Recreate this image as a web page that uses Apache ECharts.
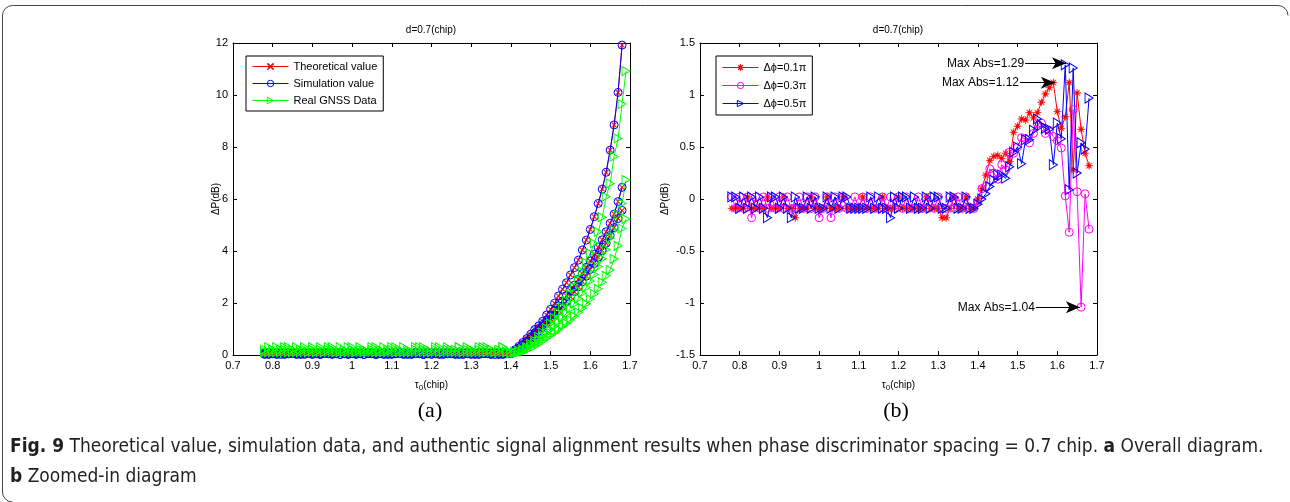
<!DOCTYPE html>
<html>
<head>
<meta charset="utf-8">
<script src="https://cdn.jsdelivr.net/npm/echarts@6/dist/echarts.min.js"></script>
<style>
html,body{margin:0;padding:0;background:#fff;}
#c{width:1290px;height:502px;}
</style>
</head>
<body>
<div id="c"></div>
<script>
// ---------------- DATA ----------------
const tau = [0.78,0.79,0.80,0.81,0.82,0.83,0.84,0.85,0.86,0.87,0.88,0.89,0.90,0.91,0.92,0.93,0.94,0.95,0.96,0.97,
0.98,0.99,1.00,1.01,1.02,1.03,1.04,1.05,1.06,1.07,1.08,1.09,1.10,1.11,1.12,1.13,1.14,1.15,1.16,1.17,
1.18,1.19,1.20,1.21,1.22,1.23,1.24,1.25,1.26,1.27,1.28,1.29,1.30,1.31,1.32,1.33,1.34,1.35,1.36,1.37,
1.38,1.39,1.40,1.41,1.42,1.43,1.44,1.45,1.46,1.47,1.48,1.49,1.50,1.51,1.52,1.53,1.54,1.55,1.56,1.57,
1.58,1.59,1.60,1.61,1.62,1.63,1.64,1.65,1.66,1.67,1.68];
const tauGnss = [0.78,0.79,0.80,0.81,0.82,0.83,0.84,0.85,0.86,0.87,0.88,0.89,0.90,0.91,0.92,0.93,0.94,0.95,0.96,0.97,
0.98,0.99,1.00,1.01,1.02,1.03,1.04,1.05,1.06,1.07,1.08,1.09,1.10,1.11,1.12,1.13,1.14,1.15,1.16,1.17,
1.18,1.19,1.20,1.21,1.22,1.23,1.24,1.25,1.26,1.27,1.28,1.29,1.30,1.31,1.32,1.33,1.34,1.35,1.36,1.37,
1.38,1.39,1.40,1.41,1.42,1.43,1.44,1.45,1.46,1.47,1.48,1.49,1.50,1.51,1.52,1.53,1.54,1.55,1.56,1.57,
1.58,1.59,1.60,1.61,1.62,1.63,1.64,1.65,1.66,1.67,1.68,1.69];

// (a) Theoretical value, three branches
const theoUpper = [0.05,0.09,0.05,0.02,0.09,0.05,0.05,0.09,0.02,0.05, 0.09,0.05,0.05,0.09,0.02,0.05,0.09,0.05,0.05,0.02,
0.09,0.05,0.05,0.09,0.05,0.02,0.05,0.09,0.05,0.05, 0.02,0.09,0.05,0.05,0.09,0.05,0.02,0.05,0.09,0.05,
0.05,0.09,0.02,0.05,0.05,0.09,0.05,0.05,0.02,0.09, 0.05,0.05,0.09,0.02,0.05,0.05,0.09,0.05,0.02,0.05, 0.09,0.05,
0.08,0.20,0.33,0.48,0.63,0.80,0.98,1.12,1.30, 1.54,1.76,1.99,2.27,2.53,2.78,3.08,3.36,3.65,4.04,
4.42,4.83,5.32,5.83,6.38,7.03,7.88,8.85,10.10,11.92];
const theoMiddle = [0.02,0.05,0.09,0.05,0.02,0.05,0.09,0.05,0.05,0.02, 0.05,0.09,0.02,0.05,0.05,0.09,0.05,0.02,0.05,0.09,
0.05,0.02,0.09,0.05,0.05,0.02,0.09,0.05,0.02,0.05, 0.09,0.05,0.02,0.05,0.09,0.05,0.05,0.02,0.09,0.05,
0.02,0.05,0.09,0.05,0.02,0.05,0.09,0.05,0.05,0.02, 0.09,0.05,0.02,0.05,0.09,0.05,0.05,0.02,0.09,0.05, 0.02,0.05,
0.06,0.16,0.27,0.40,0.54,0.69,0.85,1.01,1.17, 1.34,1.52,1.70,1.89,2.08,2.28,2.48,2.69,2.91,3.13,
3.37,3.61,3.87,4.14,4.43,4.74,5.07,5.42,5.90,6.45];
const theoLower = [0.09,0.02,0.05,0.05,0.09,0.02,0.05,0.09,0.05,0.05, 0.02,0.09,0.05,0.05,0.02,0.09,0.05,0.05,0.09,0.02,
0.05,0.05,0.09,0.02,0.05,0.09,0.05,0.05,0.02,0.09, 0.05,0.02,0.05,0.09,0.05,0.02,0.09,0.05,0.05,0.09,
0.02,0.05,0.05,0.09,0.05,0.02,0.05,0.09,0.05,0.05, 0.02,0.09,0.05,0.05,0.02,0.09,0.05,0.05,0.09,0.02, 0.05,0.05,
0.05,0.14,0.25,0.37,0.50,0.63,0.77,0.92,1.07, 1.22,1.38,1.54,1.71,1.88,2.06,2.24,2.43,2.62,2.82,
3.03,3.29,3.52,3.76,4.02,4.30,4.60,4.90,5.25,5.56];
// (a) Simulation value coincides with theory
const simUpper = theoUpper, simMiddle = theoMiddle, simLower = theoLower;
// (a) Real GNSS Data, three branches
const gnssUpper = [0.12,0.30,0.12,0.12,0.20,0.12,0.30,0.12,0.12,0.20, 0.12,0.12,0.30,0.12,0.20,0.12,0.12,0.30,0.12,0.12,
0.20,0.12,0.30,0.12,0.12,0.20,0.12,0.12,0.30,0.12, 0.12,0.20,0.12,0.30,0.12,0.12,0.20,0.12,0.12,0.30,
0.12,0.20,0.12,0.12,0.30,0.12,0.12,0.20,0.12,0.30, 0.12,0.12,0.20,0.12,0.12,0.30,0.12,0.20,0.12,0.12, 0.30,0.12,
0.10,0.12,0.16,0.22,0.30,0.42,0.55,0.70,0.86,1.03, 1.21,1.41,1.62,1.84,2.08,2.33,2.60,2.90,3.20,3.55,
3.91,4.30,4.74,5.30,6.09,6.60,7.63,8.33,9.65,10.92];
const gnssMiddle = [0.20,0.12,0.12,0.30,0.12,0.20,0.12,0.12,0.30,0.12, 0.20,0.12,0.12,0.12,0.30,0.12,0.20,0.12,0.12,0.30,
0.12,0.12,0.20,0.12,0.30,0.12,0.12,0.20,0.12,0.12, 0.30,0.12,0.20,0.12,0.12,0.30,0.12,0.12,0.20,0.12,
0.30,0.12,0.12,0.20,0.12,0.12,0.30,0.12,0.20,0.12, 0.12,0.30,0.12,0.12,0.20,0.12,0.30,0.12,0.12,0.20, 0.12,0.12,
0.08,0.09,0.12,0.17,0.25,0.35,0.46,0.58,0.71,0.84, 0.98,1.12,1.27,1.43,1.60,1.78,1.97,2.17,2.38,2.60,
2.85,3.10,3.40,3.70,4.05,4.50,4.80,5.40,5.83,6.73];
const gnssLower = [0.12,0.12,0.20,0.12,0.12,0.30,0.12,0.20,0.12,0.12, 0.30,0.12,0.20,0.12,0.12,0.12,0.30,0.20,0.12,0.12,
0.12,0.30,0.12,0.12,0.20,0.12,0.12,0.30,0.12,0.20, 0.12,0.12,0.30,0.12,0.20,0.12,0.12,0.12,0.30,0.12,
0.20,0.12,0.12,0.30,0.12,0.12,0.20,0.12,0.12,0.30, 0.12,0.20,0.12,0.12,0.30,0.12,0.12,0.20,0.12,0.12, 0.30,0.12,
0.07,0.08,0.10,0.13,0.19,0.26,0.34,0.43,0.53,0.64, 0.75,0.86,0.98,1.10,1.22,1.35,1.49,1.64,1.80,1.97,
2.15,2.35,2.55,2.80,3.05,3.27,3.70,4.20,4.87,5.23];

// (b) zoomed-in, three phase offsets
const dphi01 = [-0.09,-0.09,-0.09,-0.09,0.02,-0.09,-0.09,-0.09,-0.09,0.02, -0.09,-0.09,-0.09,0.02,-0.09,-0.09,-0.18,-0.09,-0.09,-0.09,
0.02,-0.09,-0.09,-0.09,0.02,-0.09,-0.09,-0.09,0.02,-0.09, -0.09,-0.09,-0.09,0.02,-0.09,-0.09,-0.09,-0.09,0.02,-0.09,
-0.09,-0.09,0.02,-0.09,-0.09,-0.09,-0.09,-0.09,-0.09,0.02, -0.09,-0.09,-0.09,-0.18,-0.18,-0.09,0.02,-0.09,-0.09,0.02, -0.09,-0.09,
0.00,0.10,0.23,0.37,0.41,0.42,0.39,0.44,0.36, 0.64,0.70,0.77,0.76,0.83,0.78,0.83,0.93,1.01,1.07,
1.12,0.84,0.68,0.79,1.12,0.28,1.02,0.67,0.44,0.32];
const dphi03 = [0.02,-0.09,0.02,-0.09,0.02,-0.18,0.02,-0.09,0.02,-0.09, 0.02,-0.09,0.02,-0.09,0.02,-0.09,-0.09,0.02,-0.09,0.02,
-0.09,0.02,-0.18,-0.09,0.02,-0.18,0.02,-0.09,0.02,-0.09, -0.09,0.02,-0.09,0.02,-0.09,0.02,-0.09,-0.09,0.02,-0.09,
0.02,-0.09,0.02,-0.09,0.02,-0.09,-0.09,0.02,-0.09,-0.09, 0.02,-0.09,0.02,-0.09,-0.09,0.02,-0.09,0.02,-0.09,0.02, -0.09,-0.09,
-0.02,0.10,0.12,0.29,0.25,0.19,0.33,0.28,0.45, 0.44,0.50,0.59,0.58,0.54,0.63,0.72,0.73,0.63,0.66,
0.60,0.56,0.49,0.03,-0.32,0.86,0.07,-1.04,0.05,-0.29];
const dphi05 = [0.02,0.02,-0.09,0.02,-0.09,0.02,-0.09,0.02,-0.09,-0.18, 0.02,0.02,-0.09,0.02,-0.09,-0.18,0.02,-0.09,-0.09,0.02,
-0.09,0.02,-0.09,-0.09,0.02,-0.09,0.02,-0.09,0.02,0.02, -0.09,-0.09,-0.09,-0.09,-0.09,0.02,-0.09,0.02,-0.09,-0.09,
-0.18,0.02,-0.09,0.02,0.02,-0.09,0.02,-0.09,-0.09,0.02, -0.09,0.02,0.02,-0.09,-0.09,0.02,0.02,-0.09,-0.09,0.02, -0.09,-0.09,
-0.05,0.00,0.05,0.12,0.18,0.23,0.23,0.20,0.31, 0.45,0.50,0.34,0.57,0.57,0.66,0.77,0.71,0.68,0.67,
0.33,0.73,0.58,1.29,0.09,1.26,0.25,0.54,0.48,0.97];

// tick labels
const xTickLabels = ['0.7','0.8','0.9','1','1.1','1.2','1.3','1.4','1.5','1.6','1.7'];
const yTickLabelsA = ['0','2','4','6','8','10','12'];
const yTickLabelsB = ['-1.5','-1','-0.5','0','0.5','1','1.5'];

// annotations (b): [text, x start, x end (arrow tip), y]
const annotations = [
  ['Max Abs=1.29', 1.519, 1.622, 1.305],
  ['Max Abs=1.12', 1.506, 1.594, 1.118],
  ['Max Abs=1.04', 1.546, 1.657, -1.041]
];

// ---------------- CHART ----------------
const FONT = 'Liberation Sans, Arial, sans-serif';
const CAPFONT = 'DejaVu Sans Condensed, Liberation Sans Narrow, sans-serif';
const chart = echarts.init(document.getElementById('c'), null, {renderer:'canvas'});

const crossSym = 'path://M0,1 L1,0 L5,4 L9,0 L10,1 L6,5 L10,9 L9,10 L5,6 L1,10 L0,9 L4,5 Z';
const triSym = 'path://M0,0 L10,5 L0,10 Z';
const starSym = 'path://M10,5 L6.48,5.61 L8.54,8.54 L5.61,6.48 L5,10 L4.39,6.48 L1.46,8.54 L3.52,5.61 L0,5 L3.52,4.39 L1.46,1.46 L4.39,3.52 L5,0 L5.61,3.52 L8.54,1.46 L6.48,4.39 Z';

function pts(xs, ys){ return ys.map((y,i)=>[xs[i], y]); }

function lineSeries(name, xs, ys, axisIdx, sym, size, color, hollow, extra){
  return Object.assign({
    name, type:'line', xAxisIndex:axisIdx, yAxisIndex:axisIdx,
    data: pts(xs, ys), symbol: sym, symbolSize: size, showSymbol:true, showAllSymbol:true,
    lineStyle:{color, width:1},
    itemStyle: hollow ? {color:'rgba(0,0,0,0)', borderColor:color, borderWidth:1}
                      : {color, borderColor:color, borderWidth:0.4},
    emphasis:{disabled:true}, silent:true, animation:false, z:2
  }, extra||{});
}

const series = [];
// left
[theoUpper, theoMiddle, theoLower].forEach(d=>series.push(lineSeries('Theoretical value', tau, d, 0, crossSym, 5, '#ff0000', false)));
[simUpper, simMiddle, simLower].forEach(d=>series.push(lineSeries('Simulation value', tau, d, 0, 'circle', 8, '#0000ff', true)));
[gnssUpper, gnssMiddle, gnssLower].forEach(d=>series.push(lineSeries('Real GNSS Data', tauGnss, d, 0, triSym, [8,9], '#00ff00', true)));
// right
series.push(lineSeries('Δϕ=0.1π', tau, dphi01, 2, starSym, 8, '#ff0000', false));
series.push(lineSeries('Δϕ=0.3π', tau, dphi03, 2, 'circle', 8, '#ff00ff', true));
series.push(lineSeries('Δϕ=0.5π', tau, dphi05, 2, triSym, [8,10], '#0000ff', true, {
  markLine:{
    silent:true, animation:false,
    symbol:['none','arrow'], symbolSize:[9,14],
    lineStyle:{color:'#000', width:1, type:'solid'},
    label:{show:true, position:'start', distance:1, color:'#000', fontSize:12, fontFamily:FONT},
    data: annotations.map(a=>[
      {coord:[a[1], a[3]], label:{formatter:a[0]}},
      {coord:[a[2], a[3]]}
    ])
  }
}));

function xAx(grid, pos, show){
  return {
    type:'value', gridIndex:grid, position:pos, min:0.7, max:1.7, interval:0.1,
    axisLine:{show:true, onZero:false, lineStyle:{color:'#000', width:1}},
    axisTick:{show:true, inside:true, length:4, lineStyle:{color:'#000'}},
    axisLabel:{show:show, color:'#000', fontSize:11, fontFamily:FONT, margin:5,
      formatter:(v)=>xTickLabels[Math.round((v-0.7)*10)]},
    splitLine:{show:false},
    name: show ? '{t|τ}{s|0}{t|(chip)}' : '',
    nameLocation:'middle', nameGap:23, nameMoveOverlap:false,
    nameTextStyle:{rich:{t:{fontSize:10, fontFamily:FONT, color:'#000'}, s:{fontSize:8, fontFamily:FONT, color:'#000', padding:[6,0,0,0]}}}
  };
}
function yAx(grid, pos, show, min, max, interval, labels, nameGap){
  return {
    type:'value', gridIndex:grid, position:pos, min, max, interval,
    axisLine:{show:true, onZero:false, lineStyle:{color:'#000', width:1}},
    axisTick:{show:true, inside:true, length:4, lineStyle:{color:'#000'}},
    axisLabel:{show:show, color:'#000', fontSize:11, fontFamily:FONT, margin:5,
      formatter:(v)=>labels[Math.round((v-min)/interval)]},
    splitLine:{show:false},
    name: show ? 'ΔP(dB)' : '', nameLocation:'middle', nameGap: nameGap, nameRotate:90, nameMoveOverlap:false,
    nameTextStyle:{fontSize:10, fontFamily:FONT, color:'#000'}
  };
}

const legendCommon = {
  orient:'vertical', borderColor:'#000', borderWidth:1, backgroundColor:'#fff',
  itemWidth:36, itemHeight:8, selectedMode:false,
  lineStyle:{width:1},
  itemStyle:{borderWidth:1},
  textStyle:{fontSize:11, fontFamily:FONT, color:'#000'}
};

const option = {
  backgroundColor:'#fff',
  animation:false,
  grid:[
    {left:233, top:43, width:397, height:312},
    {left:700, top:43, width:397, height:312}
  ],
  xAxis:[ xAx(0,'bottom',true), xAx(0,'top',false), xAx(1,'bottom',true), xAx(1,'top',false) ],
  yAxis:[
    yAx(0,'left',true,0,12,2,yTickLabelsA,12), yAx(0,'right',false,0,12,2,yTickLabelsA,0),
    yAx(1,'left',true,-1.5,1.5,0.5,yTickLabelsB,30), yAx(1,'right',false,-1.5,1.5,0.5,yTickLabelsB,0)
  ],
  legend:[
    Object.assign({}, legendCommon, {left:246, top:56, padding:[5,6,5,6], itemGap:6,
      data:['Theoretical value','Simulation value','Real GNSS Data']}),
    Object.assign({}, legendCommon, {left:716, top:56, padding:[6,6,6,6], itemGap:7,
      data:['Δϕ=0.1π','Δϕ=0.3π','Δϕ=0.5π']})
  ],
  series,
  graphic:[
    {type:'text', x:431, y:30, style:{text:'d=0.7(chip)', fontSize:10, fontFamily:FONT, fill:'#000', align:'center', verticalAlign:'middle'}},
    {type:'text', x:898, y:30, style:{text:'d=0.7(chip)', fontSize:10, fontFamily:FONT, fill:'#000', align:'center', verticalAlign:'middle'}},
    {type:'text', x:430, y:411, style:{text:'(a)', fontSize:22, fontFamily:'Liberation Serif, Times New Roman, serif', fill:'#000', align:'center', verticalAlign:'middle'}},
    {type:'text', x:896, y:411, style:{text:'(b)', fontSize:22, fontFamily:'Liberation Serif, Times New Roman, serif', fill:'#000', align:'center', verticalAlign:'middle'}},
    {type:'text', x:10, y:447, style:{
      text:'{b|Fig. 9} Theoretical value, simulation data, and authentic signal alignment results when phase discriminator spacing = 0.7 chip. {b|a} Overall diagram.',
      fontSize:19, fontFamily:CAPFONT, fill:'#231f20', verticalAlign:'middle',
      rich:{b:{fontWeight:'bold', fontSize:19, fontFamily:CAPFONT, fill:'#231f20'}}}},
    {type:'text', x:10, y:477, style:{
      text:'{b|b} Zoomed-in diagram',
      fontSize:19, fontFamily:CAPFONT, fill:'#231f20', verticalAlign:'middle',
      rich:{b:{fontWeight:'bold', fontSize:19, fontFamily:CAPFONT, fill:'#231f20'}}}},
    // rounded outer frame
    {type:'line', shape:{x1:2.5, y1:15, x2:2.5, y2:492}, style:{stroke:'#444', lineWidth:1}},
    {type:'line', shape:{x1:12.5, y1:5.5, x2:1278, y2:5.5}, style:{stroke:'#444', lineWidth:1}},
    {type:'arc', shape:{cx:12.5, cy:15.5, r:10, startAngle:Math.PI, endAngle:Math.PI*1.5}, style:{stroke:'#444', lineWidth:1, fill:null}},
    {type:'arc', shape:{cx:12.5, cy:492, r:10, startAngle:Math.PI*0.5, endAngle:Math.PI}, style:{stroke:'#444', lineWidth:1, fill:null}},
    {type:'arc', shape:{cx:1278, cy:15.5, r:10, startAngle:Math.PI*1.5, endAngle:Math.PI*2}, style:{stroke:'#444', lineWidth:1, fill:null}}
  ]
};
chart.setOption(option);
</script>
</body>
</html>
